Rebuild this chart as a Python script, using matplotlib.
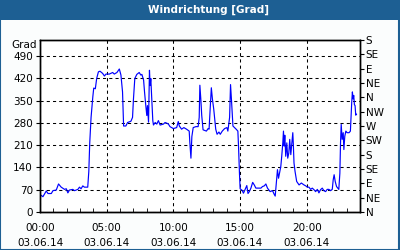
import numpy as np
import matplotlib
matplotlib.use("Agg")
import matplotlib.pyplot as plt
from matplotlib.patches import Rectangle

# Stunden seit 00:00 am 03.06.14 und Windrichtung in Grad
stunden = [0.0, 0.22, 0.47, 0.6, 0.85, 0.97, 1.22, 1.39, 1.59, 1.84, 1.97, 2.09, 2.21,
           2.46, 2.59, 2.84, 2.96, 3.08, 3.21, 3.33, 3.58, 3.66, 3.73, 3.83, 3.96, 4.03,
           4.15, 4.25, 4.38, 4.5, 4.7, 4.83, 4.95, 5.2, 5.45, 5.57, 5.77, 5.95, 6.07,
           6.19, 6.27, 6.44, 6.57, 6.82, 6.94, 7.01, 7.11, 7.26, 7.44, 7.56, 7.64, 7.77,
           7.84, 7.92, 8.01, 8.06, 8.14, 8.21, 8.26, 8.31, 8.39, 8.46, 8.51, 8.64, 8.76,
           8.88, 9.01, 9.26, 9.38, 9.5, 9.63, 9.75, 10.0, 10.25, 10.37, 10.45, 10.62,
           10.79, 10.99, 11.19, 11.24, 11.32, 11.39, 11.49, 11.69, 11.86, 11.94, 11.99,
           12.06, 12.13, 12.23, 12.48, 12.61, 12.68, 12.78, 12.85, 12.93, 13.03, 13.18,
           13.28, 13.42, 13.52, 13.67, 13.85, 14.02, 14.09, 14.22, 14.29, 14.37, 14.47,
           14.71, 14.84, 14.89, 14.96, 15.01, 15.16, 15.26, 15.41, 15.51, 15.6, 15.7,
           15.82, 15.95, 16.07, 16.19, 16.44, 16.57, 16.69, 16.82, 16.94, 17.06, 17.26,
           17.44, 17.56, 17.64, 17.74, 17.81, 17.89, 17.96, 18.06, 18.13, 18.21, 18.26,
           18.31, 18.36, 18.43, 18.51, 18.58, 18.66, 18.73, 18.81, 18.88, 18.96, 19.0,
           19.05, 19.13, 19.25, 19.43, 19.6, 19.8, 19.93, 20.05, 20.17, 20.3, 20.42,
           20.55, 20.67, 20.8, 20.92, 21.04, 21.17, 21.29, 21.42, 21.54, 21.67, 21.79,
           21.92, 21.99, 22.06, 22.14, 22.24, 22.41, 22.49, 22.54, 22.59, 22.66, 22.74,
           22.79, 22.86, 22.94, 23.03, 23.18, 23.28, 23.33, 23.38, 23.43, 23.48, 23.53,
           23.58, 23.63, 23.68, 23.73]
grad = [55, 48, 66, 58, 58, 67, 69, 88, 78, 71, 73, 60, 69,
        71, 67, 71, 78, 73, 82, 78, 78, 127, 217, 297, 361, 389,
        387, 419, 440, 442, 435, 427, 433, 433, 438, 433, 438, 449, 430,
        377, 270, 270, 281, 285, 297, 355, 419, 432, 438, 430, 432, 414,
        377, 340, 303, 334, 282, 445, 397, 419, 345, 287, 273, 281, 276,
        287, 273, 276, 281, 279, 276, 268, 262, 265, 284, 270, 260,
        265, 260, 254, 217, 169, 237, 265, 268, 268, 297, 398,
        355, 303, 258, 254, 262, 260, 334, 390, 355, 323, 260,
        244, 251, 244, 254, 262, 265, 254, 297, 400, 345, 270,
        260, 254, 206, 121, 73, 68, 59, 73, 83, 58, 64,
        75, 93, 85, 75, 75, 75, 80, 82, 88, 75, 64,
        67, 56, 50, 101, 133, 106, 122, 143, 175, 217, 254,
        207, 241, 175, 217, 169, 185, 228, 180, 212, 249, 212,
        154, 127, 96, 85, 91, 85, 82, 78, 78, 71, 75,
        70, 64, 71, 60, 70, 75, 67, 64, 71, 71, 67,
        71, 101, 117, 96, 80, 71, 122, 217, 275, 228, 249,
        196, 238, 254, 249, 249, 254, 303, 345, 377, 355, 366,
        337, 334, 304, 307]

links_ticks = [0, 70, 140, 210, 280, 350, 420, 490]
rechts_ticks = [0, 45, 90, 135, 180, 225, 270, 315, 360, 405, 450, 495, 540]
rechts_labels = ["N", "NE", "E", "SE", "S", "SW", "W", "NW", "N", "NE", "E", "SE", "S"]
x_ticks = [0, 5, 10, 15, 20]
x_labels = ["00:00\n03.06.14", "05:00\n03.06.14", "10:00\n03.06.14",
            "15:00\n03.06.14", "20:00\n03.06.14"]

plt.rcParams['font.family'] = 'DejaVu Sans'
plt.rcParams['font.size'] = 7.5

fig = plt.figure(figsize=(4, 2.5), dpi=100, facecolor='#fbfdfd')
# Titelbalken
fig.patches.append(Rectangle((0, 0.92), 1, 0.08, transform=fig.transFigure,
                             facecolor='#1d5f93', edgecolor='none', zorder=0))
fig.patches.append(Rectangle((0.001, 0.002), 0.997, 0.996, transform=fig.transFigure,
                             facecolor='none', edgecolor='#1d5f93', lw=1.5, zorder=1))
fig.text(0.52, 0.96, "Windrichtung [Grad]", color='white', fontweight='bold',
         ha='center', va='center', fontsize=7.5)

ax = fig.add_axes([0.1, 0.152, 0.8, 0.688])
ax.set_facecolor('white')
ax.plot(stunden, grad, color='#0000ff', lw=0.85)
ax.set_xlim(0, 24)
ax.set_ylim(0, 540)
ax.set_xticks(x_ticks)
ax.set_xticklabels(x_labels, linespacing=1.6)
ax.set_xticks(np.arange(0, 25, 1), minor=True)
ax.set_yticks(links_ticks)
ax.grid(True, color='black', linestyle=(0, (3, 3)), lw=0.75)
ax.tick_params(axis='x', which='major', length=0, pad=8)
ax.tick_params(axis='x', which='minor', direction='in', length=3)
ax.tick_params(axis='y', length=3, pad=2)
for s in ax.spines.values():
    s.set_linewidth(1.0)
ax.text(-0.01, 1.0, "Grad", transform=ax.transAxes, ha='right', va='top')

ax2 = ax.twinx()
ax2.set_ylim(0, 540)
ax2.set_yticks(rechts_ticks)
ax2.set_yticklabels(rechts_labels)
ax2.tick_params(axis='y', length=3, pad=1)
for s in ax2.spines.values():
    s.set_linewidth(1.0)

fig.savefig('out.png', dpi=100, facecolor=fig.get_facecolor())
